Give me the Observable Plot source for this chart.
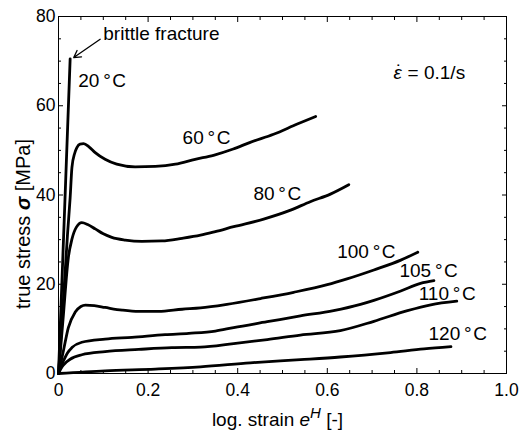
<!DOCTYPE html>
<html><head><meta charset="utf-8">
<script src="https://cdn.jsdelivr.net/npm/d3@7"></script>
<script src="https://cdn.jsdelivr.net/npm/@observablehq/plot@0.6"></script>
<style>
body{margin:0;background:#fff;}
svg{font-family:"Liberation Sans",Arial,Helvetica,sans-serif;}
</style>
</head><body><div id="chart"></div>
<script>
// ---- data ----
const temps = ["20", "60", "80", "100", "105", "110", "120"];
const x20 = [0, 0.013, 0.026];
const y20 = [0, 35, 70.5];
const x60 = [0, 0.010, 0.020, 0.026, 0.030, 0.036, 0.041, 0.048, 0.056, 0.068, 0.082, 0.104, 0.130, 0.171, 0.216, 0.261, 0.305, 0.346, 0.390, 0.428, 0.480, 0.533, 0.574];
const y60 = [0, 15, 31, 39.4, 46.2, 49.3, 50.6, 51.4, 51.5, 50.8, 49.5, 48.0, 46.9, 46.3, 46.4, 46.9, 48.0, 48.9, 50.3, 51.8, 53.6, 55.9, 57.6];
const x80 = [0, 0.010, 0.022, 0.030, 0.040, 0.052, 0.065, 0.082, 0.100, 0.119, 0.149, 0.186, 0.231, 0.276, 0.317, 0.350, 0.391, 0.458, 0.518, 0.562, 0.607, 0.648];
const y80 = [0, 12, 26.0, 30.1, 32.8, 33.8, 33.4, 32.4, 31.3, 30.5, 29.9, 29.6, 29.7, 30.3, 31.0, 31.8, 32.9, 34.6, 36.6, 38.5, 40.2, 42.3];
const x100 = [0, 0.011, 0.022, 0.037, 0.050, 0.060, 0.080, 0.104, 0.142, 0.179, 0.223, 0.276, 0.317, 0.376, 0.451, 0.525, 0.600, 0.644, 0.704, 0.764, 0.802];
const y100 = [0, 5.1, 10.3, 13.7, 15.0, 15.3, 15.2, 14.8, 14.2, 13.9, 13.9, 14.4, 14.7, 15.5, 16.8, 18.2, 19.9, 21.2, 23.2, 25.4, 27.2];
const x105 = [0, 0.005, 0.011, 0.020, 0.030, 0.052, 0.104, 0.164, 0.238, 0.291, 0.350, 0.391, 0.466, 0.540, 0.614, 0.674, 0.704, 0.764, 0.808, 0.838];
const y105 = [0, 1.5, 2.8, 4.6, 5.8, 7.0, 7.7, 8.1, 8.7, 9.0, 9.5, 10.3, 11.6, 12.9, 14.1, 15.5, 16.4, 18.5, 20.2, 20.8];
const x110 = [0, 0.008, 0.017, 0.026, 0.052, 0.104, 0.179, 0.253, 0.317, 0.391, 0.466, 0.540, 0.629, 0.704, 0.779, 0.831, 0.889];
const y110 = [0, 1.5, 2.5, 3.2, 4.2, 4.9, 5.4, 5.8, 5.9, 6.7, 7.6, 8.6, 9.6, 11.7, 14.1, 15.4, 16.2];
const x120 = [0, 0.104, 0.216, 0.317, 0.428, 0.540, 0.629, 0.741, 0.816, 0.876];
const y120 = [0, 0.6, 1.0, 1.5, 2.4, 3.1, 3.7, 4.7, 5.5, 6.0];

const curveLabels = ["20\u2009°\u200AC", "60\u2009°\u200AC", "80\u2009°\u200AC", "100\u2009°\u200AC", "105\u2009°\u200AC", "110\u2009°\u200AC", "120\u2009°\u200AC"];
const labelX = [0.044, 0.277, 0.435, 0.622, 0.761, 0.804, 0.826];
const labelY = [65.6, 52.7, 40.2, 27.3, 22.9, 17.8, 8.8];

const noteText = ["brittle fracture"];
const noteX = [0.100];
const noteY = [76.0];
const arrowFromX = [0.093], arrowFromY = [74.9];
const arrowToX = [0.034], arrowToY = [70.8];

const rateText = ["\u03B5 = 0.1/s"];
const rateX = [0.748], rateY = [67.4];

const xMajor = [0, 0.2, 0.4, 0.6, 0.8, 1.0];
const xMinor = [0.05, 0.1, 0.15, 0.25, 0.3, 0.35, 0.45, 0.5, 0.55, 0.65, 0.7, 0.75, 0.85, 0.9, 0.95];
const yMajor = [0, 20, 40, 60, 80];
const yMinor = [5, 10, 15, 25, 30, 35, 45, 50, 55, 65, 70, 75];
const xTickText = ["0", "0.2", "0.4", "0.6", "0.8", "1.0"];
const yTickText = ["0", "20", "40", "60", "80"];

const xLabel = "log. strain eH [-]";
const yLabel = "true stress \u03C3 [MPa]";

// ---- build table ----
const xsAll = [x20, x60, x80, x100, x105, x110, x120];
const ysAll = [y20, y60, y80, y100, y105, y110, y120];
const rows = [];
temps.forEach((t, i) => xsAll[i].forEach((x, j) => rows.push({temp: t, x, y: ysAll[i][j]})));
const labels = curveLabels.map((s, i) => ({s, x: labelX[i], y: labelY[i]}));

const blank = () => "";
const svg = Plot.plot({
  width: 522, height: 433,
  marginLeft: 58, marginRight: 16, marginTop: 16, marginBottom: 60,
  x: {domain: [0, 1]},
  y: {domain: [0, 80]},
  style: {fontFamily: "Liberation Sans, Arial, Helvetica, sans-serif", fontSize: "17px", color: "black", background: "white"},
  marks: [
    Plot.frame({stroke: "black", strokeWidth: 1}),
    // tick labels
    Plot.axisX({anchor: "bottom", ticks: xMajor, tickSize: 0, tickPadding: 10, tickFormat: (d) => xTickText[xMajor.indexOf(d)], label: null, fontSize: 17.5}),
    Plot.axisY({anchor: "left", ticks: yMajor, tickSize: 0, tickPadding: 3, tickFormat: (d) => yTickText[yMajor.indexOf(d)], label: null, fontSize: 17.5}),
    // inward ticks on all sides
    Plot.axisX({anchor: "bottom", ticks: xMajor, tickSize: -5, tickFormat: blank, label: null}),
    Plot.axisX({anchor: "bottom", ticks: xMinor, tickSize: -3, tickFormat: blank, label: null}),
    Plot.axisX({anchor: "top", ticks: xMajor, tickSize: -5, tickFormat: blank, label: null}),
    Plot.axisX({anchor: "top", ticks: xMinor, tickSize: -3, tickFormat: blank, label: null}),
    Plot.axisY({anchor: "left", ticks: yMajor, tickSize: -5, tickFormat: blank, label: null}),
    Plot.axisY({anchor: "left", ticks: yMinor, tickSize: -3, tickFormat: blank, label: null}),
    Plot.axisY({anchor: "right", ticks: yMajor, tickSize: -5, tickFormat: blank, label: null}),
    Plot.axisY({anchor: "right", ticks: yMinor, tickSize: -3, tickFormat: blank, label: null}),
    // curves
    Plot.line(rows, {x: "x", y: "y", z: "temp", stroke: "black", strokeWidth: 2.8, curve: "monotone-x", strokeLinejoin: "round"}),
    // labels
    Plot.text(labels, {x: "x", y: "y", text: "s", textAnchor: "start", fontSize: 19, fill: "black"}),
    Plot.text(noteText, {x: noteX, y: noteY, text: d => d, textAnchor: "start", fontSize: 19, fill: "black"}),
    Plot.arrow([0], {x1: arrowFromX, y1: arrowFromY, x2: arrowToX, y2: arrowToY, stroke: "black", strokeWidth: 1.3, headLength: 9}),
    Plot.text(rateText, {x: rateX, y: rateY, text: d => d, textAnchor: "start", fontSize: 19, fill: "black"}),
    // axis labels
    Plot.text([xLabel], {frameAnchor: "bottom", lineAnchor: "middle", dx: -5, dy: 46, text: d => d, fontSize: 19, fill: "black"}),
    Plot.text([yLabel], {frameAnchor: "left", textAnchor: "middle", lineAnchor: "middle", dx: -35, dy: 29, rotate: -90, text: d => d, fontSize: 20, fill: "black"})
  ]
});

// rich text formatting
d3.select(svg).selectAll("text").each(function() {
  const t = this.textContent;
  const el = d3.select(this);
  if (t === xLabel) {
    el.text("");
    el.append("tspan").text("log. strain ");
    el.append("tspan").attr("font-style", "italic").text("e");
    el.append("tspan").attr("font-style", "italic").attr("font-size", "15px").attr("dy", -8).text("H");
    el.append("tspan").attr("dy", 8).text(" [-]");
  } else if (t === yLabel) {
    el.text("");
    el.append("tspan").text("true stress ");
    el.append("tspan").attr("font-style", "italic").attr("font-weight", "bold").text("\u03C3");
    el.append("tspan").text(" [MPa]");
  } else if (t === rateText[0]) {
    el.text("");
    el.append("tspan").attr("font-style", "italic").text("\u03B5");
    el.append("tspan").attr("dx", -6).attr("dy", -1).text("\u02D9");
    el.append("tspan").attr("dy", 1).text(" = 0.1/s");
  }
});

document.getElementById("chart").appendChild(svg);
</script>
</body></html>
